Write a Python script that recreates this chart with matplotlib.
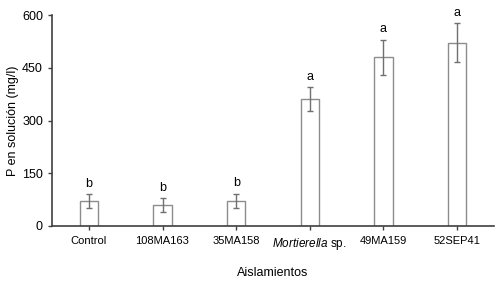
import matplotlib.pyplot as plt
import numpy as np

plt.rcParams['font.family'] = ['Liberation Sans', 'DejaVu Sans']
plt.rcParams['mathtext.fontset'] = 'custom'
plt.rcParams['mathtext.rm'] = 'Liberation Sans'
plt.rcParams['mathtext.it'] = 'Liberation Sans:italic'

# datos
aislamientos = ['Control', '108MA163', '35MA158', r'$\it{Mortierella}$ sp.', '49MA159', '52SEP41']
p_solucion = [71, 59, 72, 361, 480, 521]
error = [19, 20, 20, 35, 50, 55]
letras = ['b', 'b', 'b', 'a', 'a', 'a']

fig = plt.figure(figsize=(5, 2.89), dpi=100)
ax = fig.add_axes([0.104, 0.218, 0.884, 0.730])

x = np.arange(len(aislamientos))
ax.bar(x, p_solucion, width=0.25, color='white', edgecolor='#8c8c8c', linewidth=1.0,
       yerr=error, error_kw=dict(ecolor='#707070', elinewidth=1.0, capsize=2.5, capthick=1.0))

# letras de significancia encima de las barras de error
for xi, v, e, l in zip(x, p_solucion, error, letras):
    ax.annotate(l, xy=(xi, v + e), xytext=(0, 3), textcoords='offset points',
                ha='center', va='bottom', fontsize=9)

ax.set_xlim(-0.5, len(aislamientos) - 0.5)
ax.set_ylim(0, 600)
ax.set_yticks([0, 150, 300, 450, 600])
ax.set_xticks(x)
ax.set_xticklabels(aislamientos, fontsize=8)
ax.get_xticklabels()[3].set_fontsize(8.5)
ax.tick_params(axis='y', labelsize=9, length=3, width=1, color='#404040')
ax.tick_params(axis='x', length=3, width=1, color='#404040', pad=4)

for s in ['top', 'right']:
    ax.spines[s].set_visible(False)
for s in ['left', 'bottom']:
    ax.spines[s].set_color('#404040')
    ax.spines[s].set_linewidth(1.2)

ax.set_ylabel('P en solución (mg/l)', fontsize=9, labelpad=2)
ax.set_xlabel('Aislamientos', fontsize=9, labelpad=11)

plt.savefig('out.png', dpi=100)
